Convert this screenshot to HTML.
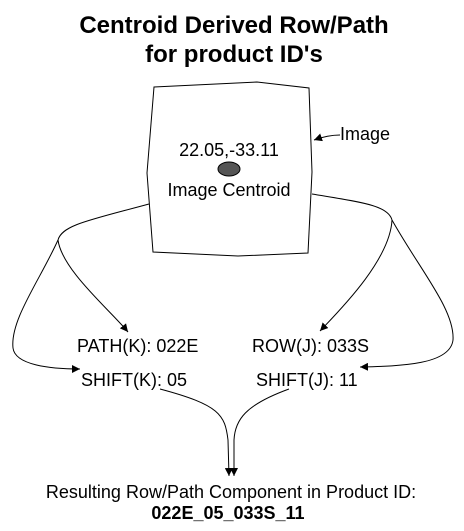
<!DOCTYPE html>
<html><head><meta charset="utf-8"><style>
html,body{margin:0;padding:0;background:#fff;}
svg{display:block;}
text{font-family:"Liberation Sans",Arial,sans-serif;fill:#000;}
</style></head><body>
<svg width="464" height="531" viewBox="0 0 464 531" xmlns="http://www.w3.org/2000/svg">
<defs>
<marker id="a" viewBox="0 0 10 10" refX="10" refY="5" markerWidth="8" markerHeight="8" orient="auto" markerUnits="userSpaceOnUse">
<path d="M0,0 L10,5 L0,10 z" fill="#000"/>
</marker>
</defs>
<text x="234" y="33" font-size="24" font-weight="bold" text-anchor="middle">Centroid Derived Row/Path</text>
<text x="234" y="62" font-size="24" font-weight="bold" text-anchor="middle">for product ID's</text>

<polygon points="154,87 257,82 309,88 312,172 308,253 238,256 153,252 147,173" fill="#fff" stroke="#000" stroke-width="1"/>
<text x="229" y="156" font-size="18" text-anchor="middle">22.05,-33.11</text>
<ellipse cx="229" cy="169" rx="11" ry="7" fill="#555" stroke="#000" stroke-width="1"/>
<text x="229" y="196" font-size="18" text-anchor="middle">Image Centroid</text>

<text x="340" y="140" font-size="18">Image</text>
<path d="M340,135 Q328,135 314,140" fill="none" stroke="#000" marker-end="url(#a)"/>

<path d="M149,204 C90,220 62,225 58,240" fill="none" stroke="#000"/>
<path d="M58,240 C62,270 110,310 128,332" fill="none" stroke="#000" marker-end="url(#a)"/>
<path d="M58,240 C40,280 10,320 13,348 C15,365 50,369 80,369" fill="none" stroke="#000" marker-end="url(#a)"/>

<path d="M312,194 C360,202 388,205 392,220" fill="none" stroke="#000"/>
<path d="M392,220 C390,260 340,310 320,331" fill="none" stroke="#000" marker-end="url(#a)"/>
<path d="M392,220 C420,270 455,310 453,340 C450,365 400,366 360,367" fill="none" stroke="#000" marker-end="url(#a)"/>

<text x="77" y="352" font-size="18">PATH(K): 022E</text>
<text x="252" y="352" font-size="18">ROW(J): 033S</text>
<text x="81" y="386" font-size="18">SHIFT(K): 05</text>
<text x="256" y="386" font-size="18">SHIFT(J): 11</text>

<path d="M160,389 C220,405 225,415 228,440 L229,476" fill="none" stroke="#000" marker-end="url(#a)"/>
<path d="M289,389 C245,405 235,420 234,440 L234,476" fill="none" stroke="#000" marker-end="url(#a)"/>

<text x="231" y="498" font-size="18" text-anchor="middle">Resulting Row/Path Component in Product ID:</text>
<text x="228" y="519" font-size="18" font-weight="bold" text-anchor="middle">022E_05_033S_11</text>
</svg>
</body></html>
